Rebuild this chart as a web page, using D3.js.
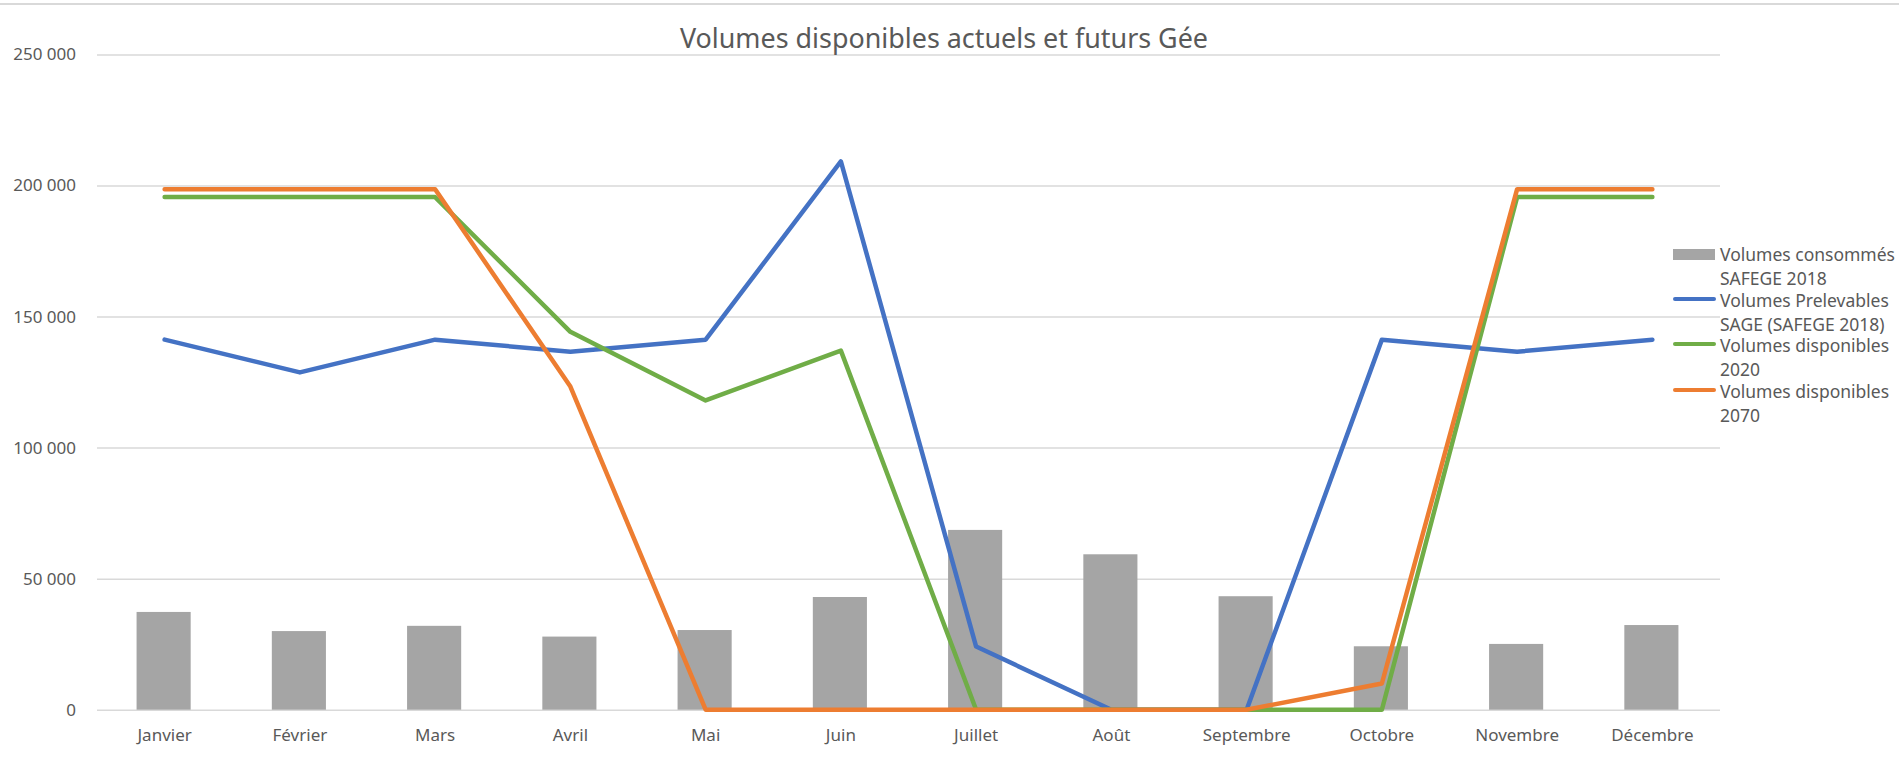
<!DOCTYPE html>
<html>
<head>
<meta charset="utf-8">
<script src="https://cdn.jsdelivr.net/npm/d3@7"></script>
<style>
  html, body { margin: 0; padding: 0; background: #ffffff; }
  svg { display: block; }
  text { font-family: "Noto Sans", "Open Sans", sans-serif; fill: #595959; }
</style>
</head>
<body>
<script>
const months = ["Janvier", "Février", "Mars", "Avril", "Mai", "Juin", "Juillet", "Août", "Septembre", "Octobre", "Novembre", "Décembre"];
const consommes = [37300, 30000, 32000, 27900, 30400, 43000, 68600, 59300, 43300, 24200, 25100, 32300];
const prelevables = [141200, 128700, 141200, 136600, 141200, 209200, 24100, 0, 0, 141200, 136600, 141200];
const dispo2020 = [195600, 195600, 195600, 144200, 118000, 137000, 0, 0, 0, 0, 195600, 195600];
const dispo2070 = [198600, 198600, 198600, 123300, 0, 0, 0, 0, 0, 10000, 198600, 198600];
const yTicks = [0, 50000, 100000, 150000, 200000, 250000];
const titleText = "Volumes disponibles actuels et futurs Gée";
const legendLabels = [
  ["Volumes consommés", "SAFEGE 2018"],
  ["Volumes Prelevables", "SAGE (SAFEGE 2018)"],
  ["Volumes disponibles", "2020"],
  ["Volumes disponibles", "2070"]
];
const colors = { bar: "#A5A5A5", blue: "#4472C4", green: "#70AD47", orange: "#ED7D31" };

const W = 1899, H = 779;
const plot = { left: 97, right: 1720, top: 54.5, bottom: 709.7 };

const svg = d3.select("body").append("svg").attr("width", W).attr("height", H);

// top border
svg.append("line").attr("x1", 0).attr("x2", W).attr("y1", 4).attr("y2", 4)
  .attr("stroke", "#d9d9d9").attr("stroke-width", 2);

const x = d3.scaleBand().domain(months).range([plot.left, plot.right]).paddingInner(0.6).paddingOuter(0.3);
const xc = d => x(d) + x.bandwidth() / 2;
const y = d3.scaleLinear().domain([0, 250000]).range([plot.bottom, plot.top]);

const fmt = d3.formatLocale({ decimal: ",", thousands: " ", grouping: [3], currency: ["", " €"] }).format(",d");

// gridlines
const yAxis = d3.axisLeft(y).tickValues(yTicks).tickSize(-(plot.right - plot.left)).tickPadding(21).tickFormat(fmt);
const gy = svg.append("g").attr("transform", `translate(${plot.left},0)`).call(yAxis);
gy.select(".domain").remove();
gy.selectAll(".tick line").attr("stroke", "#d9d9d9").attr("stroke-width", 1.5);
gy.selectAll(".tick text").attr("font-size", 17).attr("fill", "#595959")
  .style("font-family", '"Noto Sans", sans-serif');

// bars
svg.append("g").selectAll("rect").data(months).join("rect")
  .attr("x", d => x(d) - 1)
  .attr("width", x.bandwidth())
  .attr("y", (d, i) => y(consommes[i]))
  .attr("height", (d, i) => y(0) - y(consommes[i]))
  .attr("fill", colors.bar);

// x axis labels
const xAxis = d3.axisBottom(x).tickSize(0).tickPadding(19);
const gx = svg.append("g").attr("transform", `translate(0,${plot.bottom})`).call(xAxis);
gx.select(".domain").remove();
gx.selectAll(".tick text").attr("font-size", 17).attr("fill", "#595959")
  .style("font-family", '"Noto Sans", sans-serif');

// lines
const line = d3.line().x((d, i) => xc(months[i])).y(d => y(d));
[[prelevables, colors.blue], [dispo2020, colors.green], [dispo2070, colors.orange]].forEach(([vals, c]) => {
  svg.append("path").datum(vals).attr("d", line)
    .attr("fill", "none").attr("stroke", c).attr("stroke-width", 4.5)
    .attr("stroke-linejoin", "round").attr("stroke-linecap", "round");
});

// title
svg.append("text").attr("x", 944).attr("y", 48).attr("text-anchor", "middle")
  .attr("font-size", 26.9).text(titleText);

// legend
const legY = [255, 301, 346, 392];
const lg = svg.append("g");
legendLabels.forEach((lines, i) => {
  const cy = legY[i];
  if (i === 0) {
    lg.append("rect").attr("x", 1673).attr("y", cy - 6).attr("width", 42).attr("height", 11).attr("fill", colors.bar);
  } else {
    const c = [null, colors.blue, colors.green, colors.orange][i];
    lg.append("line").attr("x1", 1675).attr("x2", 1714).attr("y1", cy - 2).attr("y2", cy - 2)
      .attr("stroke", c).attr("stroke-width", 4).attr("stroke-linecap", "round");
  }
  lines.forEach((t, j) => {
    lg.append("text").attr("x", 1720).attr("y", cy + j * 24).attr("dy", "0.35em")
      .attr("font-size", 17.5).text(t);
  });
});
</script>
</body>
</html>
